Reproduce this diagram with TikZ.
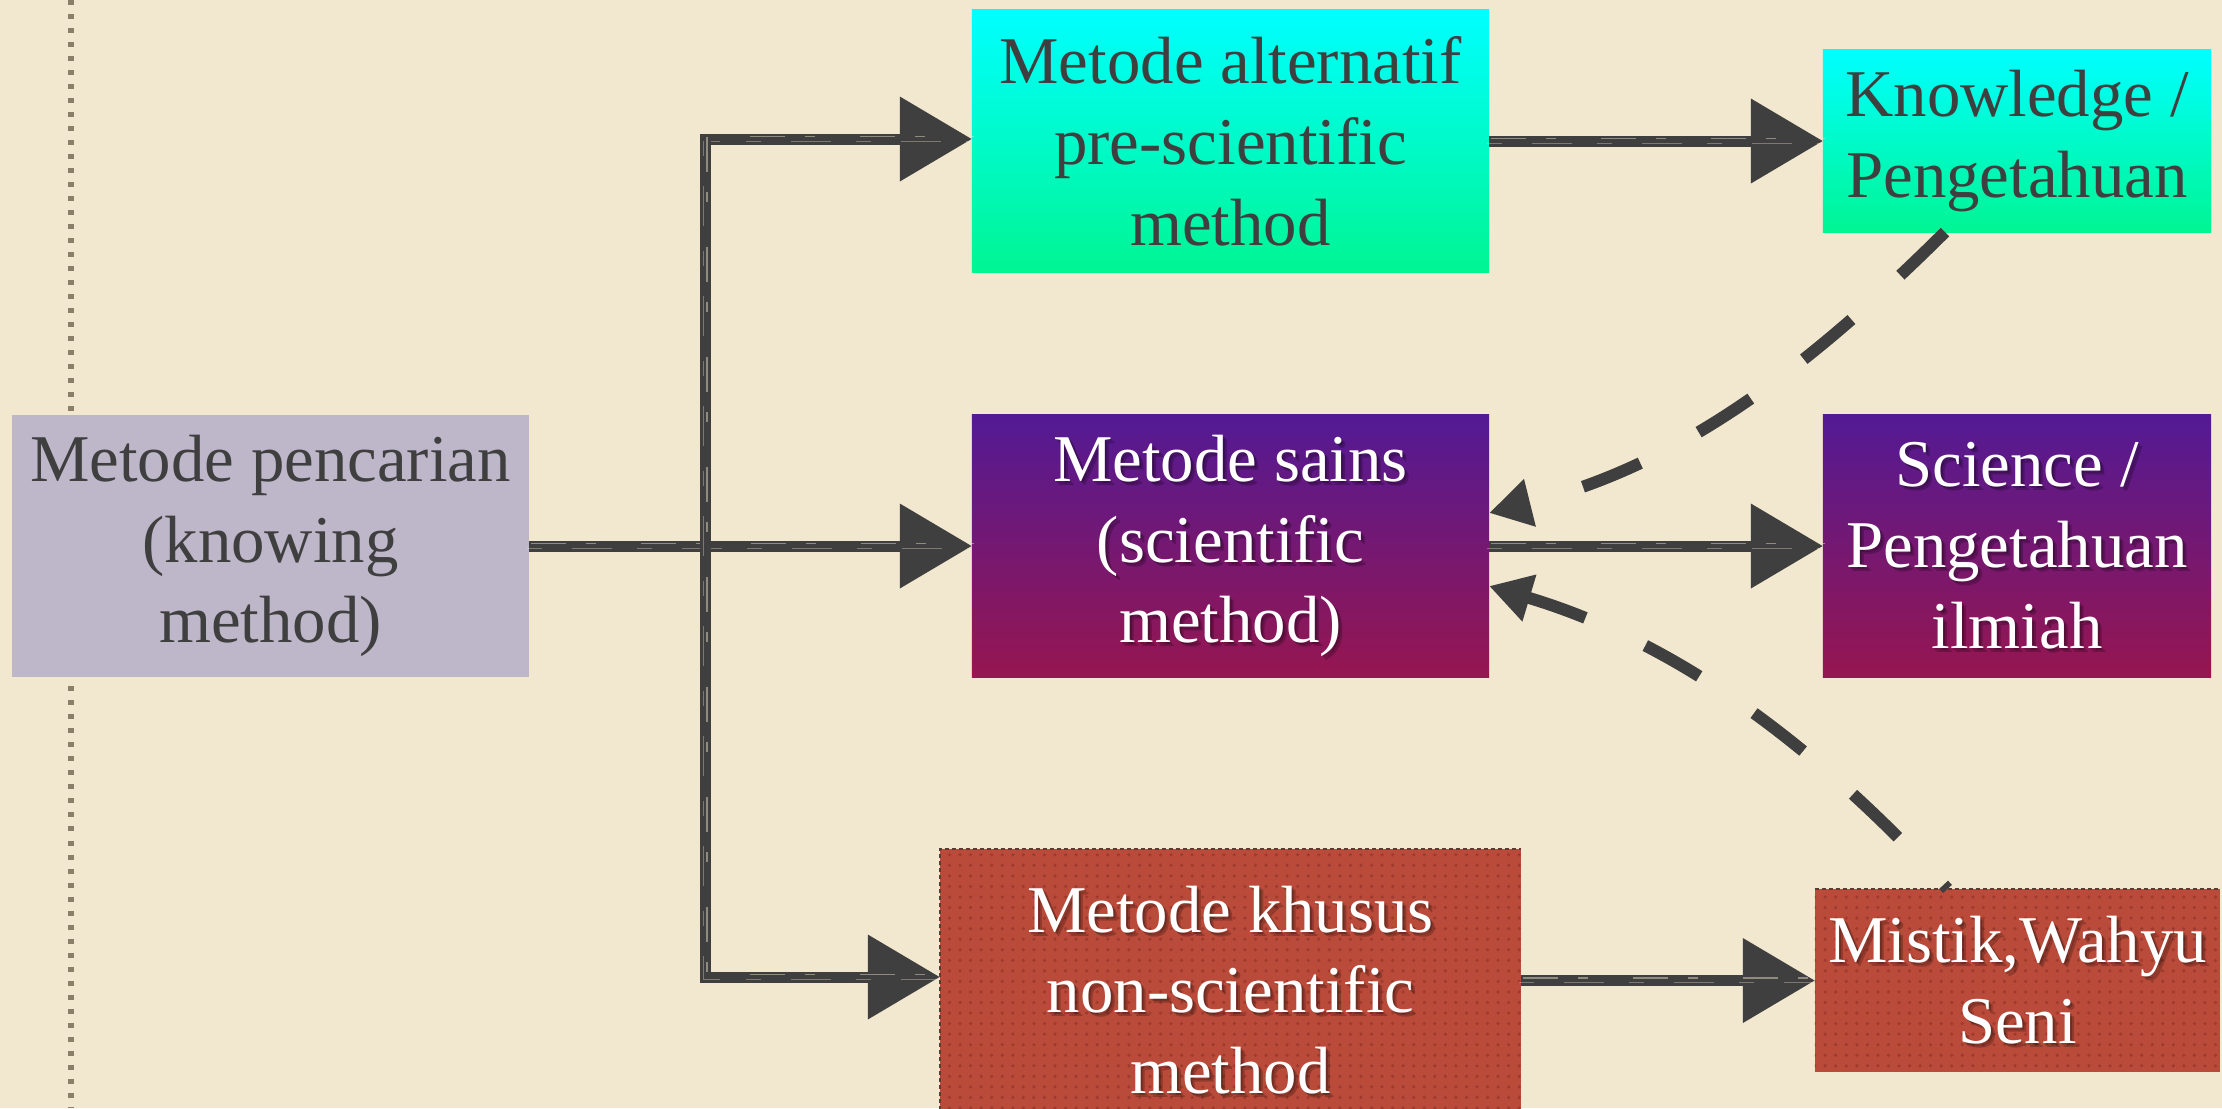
\documentclass[tikz,border=0pt]{standalone}
\usepackage{fontspec}
\setmainfont{Liberation Serif}
\usetikzlibrary{arrows.meta,patterns}

\definecolor{paper}{HTML}{F1E8CF}
\definecolor{ink}{HTML}{3F3F3F}
\definecolor{stitch}{HTML}{8A8069}
\definecolor{lilac}{HTML}{BEB6C9}
\definecolor{cyanTop}{HTML}{00FFFF}
\definecolor{cyanBot}{HTML}{00F593}
\definecolor{violetTop}{HTML}{531A94}
\definecolor{violetBot}{HTML}{961650}
\definecolor{brick}{HTML}{BA4A39}
\definecolor{brickDot}{HTML}{9E3B2E}
\definecolor{brickEdge}{HTML}{5E3A30}

\tikzset{
  % one unit = one pixel of a 2222 x 1108 canvas, y pointing down
  x=0.01cm, y=-0.01cm,
  box/.style={rectangle, inner sep=0pt, outer sep=0pt, draw=none},
  lightbox/.style={box, fill=lilac},
  cyanbox/.style={box, top color=cyanTop, bottom color=cyanBot},
  violetbox/.style={box, top color=violetTop, bottom color=violetBot},
  brickbox/.style={box, fill=brick, postaction={pattern=dots, pattern color=brickDot}},
  boxtext/.style={font=\fontsize{19}{23}\selectfont, align=center, inner sep=0pt},
  darktext/.style={boxtext, text=ink},
  whitetext/.style={boxtext, text=white},
  shadowtext/.style={boxtext, text=black, text opacity=0.22},
  % dry-brush streaks laid over a stroke
  brush/.style={postaction={draw=paper, -, line width=0.012cm, opacity=0.45,
      dash pattern=on 0.35cm off 0.2cm on 0.1cm off 0.45cm,
      transform canvas={shift={(0.02cm,0.025cm)}}},
    postaction={draw=paper, -, line width=0.01cm, opacity=0.35,
      dash pattern=on 0.15cm off 0.3cm on 0.4cm off 0.25cm,
      transform canvas={shift={(-0.02cm,-0.02cm)}}}},
  flow/.style={draw=ink, line width=0.11cm, line join=miter, brush,
    -{Triangle[length=0.72cm, width=0.82cm]}},
  dashflow/.style={draw=ink, line width=0.12cm, dash pattern=on 0.62cm off 0.66cm,
    -{Triangle[length=0.42cm, width=0.46cm]}},
  dashback/.style={draw=ink, line width=0.12cm, dash pattern=on 0.62cm off 0.66cm,
    {Triangle[length=0.42cm, width=0.46cm]}-},
  seam/.style={draw=brickEdge, line width=0.02cm, dash pattern=on 0.04cm off 0.03cm},
}

\begin{document}
\begin{tikzpicture}
\useasboundingbox (0,0) rectangle (2222,1108);
\fill[paper] (0,0) rectangle (2222,1108);

% stitched margin
\draw[stitch, line width=0.05cm, dash pattern=on 0.05cm off 0.09cm] (71,0) -- (71,1108);

% boxes with dark text
\node[lightbox, darktext, minimum width=5.17cm, minimum height=2.62cm] (A) at (270.5,546)
  {Metode pencarian\\(knowing\\method)};
\node[cyanbox, darktext, minimum width=5.17cm, minimum height=2.62cm] (B) at (1230.5,141)
  {Metode alternatif\\pre-scientific\\method};
\node[cyanbox, darktext, minimum width=3.88cm, minimum height=1.82cm] (C) at (2017,141)
  {Knowledge /\\Pengetahuan};

% boxes with white, shadowed text
\node[violetbox, minimum width=5.17cm, minimum height=2.62cm] (D) at (1230.5,546) {};
\node[violetbox, minimum width=3.88cm, minimum height=2.62cm] (E) at (2017,546) {};
\node[brickbox, minimum width=5.81cm, minimum height=2.82cm] (F) at (1230.5,990) {};
\node[brickbox, minimum width=4.05cm, minimum height=1.83cm] (G) at (2017.5,980.5) {};

\draw[seam] (F.south west) -- (F.north west) -- (F.north east);
\draw[seam] (G.north west) -- (G.north east);

\node[shadowtext] (Ds1) at ([shift={(2,2)}]D.center) {Metode sains\\(scientific\\method)};
\node[shadowtext] (Ds2) at ([shift={(4,4)}]D.center) {Metode sains\\(scientific\\method)};
\node[whitetext] (Dt) at (D.center) {Metode sains\\(scientific\\method)};

\node[shadowtext] (Es1) at ([shift={(2,2)}]E.center) {Science /\\Pengetahuan\\ilmiah};
\node[shadowtext] (Es2) at ([shift={(4,4)}]E.center) {Science /\\Pengetahuan\\ilmiah};
\node[whitetext] (Et) at (E.center) {Science /\\Pengetahuan\\ilmiah};

\node[shadowtext] (Fs1) at ([shift={(2,2)}]F.center) {Metode khusus\\non-scientific\\method};
\node[shadowtext] (Fs2) at ([shift={(4,4)}]F.center) {Metode khusus\\non-scientific\\method};
\node[whitetext] (Ft) at (F.center) {Metode khusus\\non-scientific\\method};

\node[shadowtext] (Gs1) at ([shift={(2,2)}]G.center) {Mistik,Wahyu\\Seni};
\node[shadowtext] (Gs2) at ([shift={(4,4)}]G.center) {Mistik,Wahyu\\Seni};
\node[whitetext] (Gt) at (G.center) {Mistik,Wahyu\\Seni};

% branching connectors
\coordinate (jTop) at (705,139);
\coordinate (jBot) at (705,977);
\draw[flow] (A.east) -- (D.west);
\draw[flow] (jBot) -- (jTop) -- (jTop -| B.west);
\draw[flow] (jTop) -- (jBot) -- (jBot -| F.west);

% straight connectors to the outcomes
\draw[flow] (B.east) -- (C.west);
\draw[flow] (D.east) -- (E.west);
\draw[flow] (G.west -| F.east) -- (G.west);

% dashed feedback into the scientific method
\draw[dashflow] ([xshift=-0.72cm]C.south) .. controls (1795,381) and (1670,468) .. ([yshift=0.33cm]D.east);
\draw[dashback] ([yshift=-0.40cm]D.east) .. controls (1670,640) and (1808,737) .. ([xshift=-0.70cm]G.north);
\end{tikzpicture}
\end{document}
